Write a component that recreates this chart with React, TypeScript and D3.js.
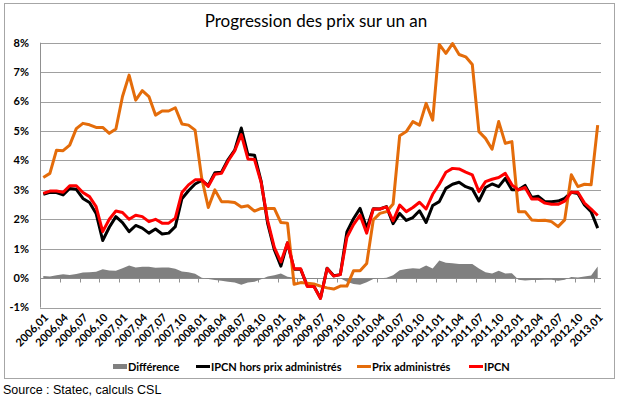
import React from 'react';
import * as d3 from 'd3';

const categories = [
  '2006,01', '2006,02', '2006,03', '2006,04', '2006,05', '2006,06', '2006,07', '2006,08', '2006,09', '2006,10', '2006,11', '2006,12',
  '2007,01', '2007,02', '2007,03', '2007,04', '2007,05', '2007,06', '2007,07', '2007,08', '2007,09', '2007,10', '2007,11', '2007,12',
  '2008,01', '2008,02', '2008,03', '2008,04', '2008,05', '2008,06', '2008,07', '2008,08', '2008,09', '2008,10', '2008,11', '2008,12',
  '2009,01', '2009,02', '2009,03', '2009,04', '2009,05', '2009,06', '2009,07', '2009,08', '2009,09', '2009,10', '2009,11', '2009,12',
  '2010,01', '2010,02', '2010,03', '2010,04', '2010,05', '2010,06', '2010,07', '2010,08', '2010,09', '2010,10', '2010,11', '2010,12',
  '2011,01', '2011,02', '2011,03', '2011,04', '2011,05', '2011,06', '2011,07', '2011,08', '2011,09', '2011,10', '2011,11', '2011,12',
  '2012,01', '2012,02', '2012,03', '2012,04', '2012,05', '2012,06', '2012,07', '2012,08', '2012,09', '2012,10', '2012,11', '2012,12',
  '2013,01',
];

// IPCN hors prix administrés
const ipcnHors = [
  2.85, 2.92, 2.91, 2.83, 3.05, 3.02, 2.71, 2.57, 2.2, 1.28, 1.73, 2.09,
  1.89, 1.58, 1.79, 1.7, 1.53, 1.67, 1.5, 1.53, 1.75, 2.7, 2.97, 3.2,
  3.32, 3.15, 3.58, 3.6, 4.03, 4.35, 5.1, 4.2, 4.18, 3.3, 1.85, 0.97,
  0.41, 1.2, 0.3, 0.3, -0.26, -0.27, -0.68, 0.34, 0.08, 0.12, 1.57, 2.02,
  2.37, 1.7, 2.36, 2.35, 2.43, 1.85, 2.2, 1.96, 2.06, 2.29, 1.89, 2.47,
  2.6, 3.05, 3.19, 3.26, 3.11, 3.03, 2.62, 3.08, 3.2, 3.11, 3.39, 3.0,
  3.0, 3.15, 2.74, 2.78, 2.6, 2.6, 2.62, 2.71, 2.92, 2.88, 2.49, 2.26,
  1.7,
];

// Prix administrés
const prixAdmin = [
  3.42, 3.56, 4.35, 4.33, 4.52, 5.08, 5.26, 5.21, 5.12, 5.12, 4.92, 5.07,
  6.17, 6.9, 6.05, 6.37, 6.17, 5.54, 5.68, 5.68, 5.79, 5.24, 5.2, 5.03,
  3.4, 2.4, 3.0, 2.6, 2.6, 2.57, 2.42, 2.46, 2.28, 2.37, 2.37, 2.37,
  1.89, 1.87, -0.21, -0.15, -0.17, -0.2, -0.27, -0.33, -0.37, -0.27, -0.27, 0.25,
  0.25, 0.5, 1.98, 2.2, 2.26, 2.52, 4.84, 4.98, 5.32, 5.2, 5.94, 5.37,
  7.94, 7.64, 7.97, 7.6, 7.52, 7.26, 4.98, 4.75, 4.38, 5.32, 4.58, 4.64,
  2.26, 2.26, 1.98, 1.96, 1.97, 1.92, 1.75, 1.98, 3.51, 3.11, 3.19, 3.17,
  5.2,
];

// IPCN
const ipcn = [
  2.88, 2.96, 2.96, 2.92, 3.14, 3.14, 2.91, 2.77, 2.43, 1.58, 2.0, 2.28,
  2.23, 2.0, 2.14, 2.09, 1.92, 2.0, 1.87, 1.87, 2.04, 2.91, 3.17, 3.34,
  3.34, 3.12, 3.53, 3.56, 3.98, 4.32, 4.88, 4.05, 4.03, 3.26, 1.95, 1.05,
  0.55, 1.2, 0.32, 0.32, -0.28, -0.28, -0.69, 0.33, 0.07, 0.12, 1.39, 1.82,
  2.14, 1.53, 2.35, 2.35, 2.42, 1.95, 2.48, 2.26, 2.4, 2.58, 2.35, 2.85,
  3.19, 3.6, 3.73, 3.71, 3.6, 3.51, 2.94, 3.28, 3.36, 3.42, 3.56, 3.17,
  3.0, 3.08, 2.69, 2.69, 2.55, 2.51, 2.51, 2.62, 2.92, 2.92, 2.55, 2.35,
  2.13,
];

// Différence
const difference = [
  0.07, 0.06, 0.1, 0.13, 0.11, 0.14, 0.19, 0.2, 0.22, 0.3, 0.26, 0.25,
  0.34, 0.43, 0.36, 0.39, 0.39, 0.35, 0.36, 0.36, 0.32, 0.23, 0.2, 0.15,
  0.01, -0.03, -0.06, -0.09, -0.12, -0.15, -0.22, -0.15, -0.12, -0.04, 0.06, 0.1,
  0.16, 0.05, 0.01, 0.0, -0.02, -0.02, 0.0, -0.01, -0.02, 0.0, -0.12, -0.2,
  -0.22, -0.14, -0.03, 0.0, 0.01, 0.1, 0.27, 0.31, 0.34, 0.32, 0.43, 0.33,
  0.6, 0.52, 0.51, 0.48, 0.48, 0.48, 0.33, 0.2, 0.16, 0.25, 0.16, 0.17,
  -0.05, -0.08, -0.06, -0.06, -0.05, -0.05, -0.09, -0.05, 0.04, 0.02, 0.06, 0.09,
  0.4,
];

const yTicks = [-1, 0, 1, 2, 3, 4, 5, 6, 7, 8];

const legendItems = [
  { label: 'Différence', color: '#808080', type: 'area', x: 113 },
  { label: 'IPCN hors prix administrés', color: '#000000', type: 'line', x: 196 },
  { label: 'Prix administrés', color: '#E46C0A', type: 'line', x: 357 },
  { label: 'IPCN', color: '#FF0000', type: 'line', x: 469 },
];

const W = 620;
const H = 398;
const plot = { left: 40, right: 601, top: 42.7, bottom: 307.6 };
const labelFont = "Lato, 'Open Sans', sans-serif";

export default function App() {
  const x = d3.scaleBand().domain(categories).range([plot.left, plot.right]).padding(0);
  const y = d3.scaleLinear().domain([-1, 8]).range([plot.bottom, plot.top]);
  const cx = (i: number) => (x(categories[i]) as number) + x.bandwidth() / 2;

  const line = d3
    .line<number>()
    .x((d, i) => cx(i))
    .y(d => y(d));

  const area = d3
    .area<number>()
    .x((d, i) => cx(i))
    .y0(y(0))
    .y1(d => y(d));

  const tickIdx = categories.map((c, i) => i).filter(i => i % 3 === 0);
  const y0 = Math.round(y(0)) + 0.5;

  return (
    <svg width={W} height={H} style={{ position: 'absolute', left: 0, top: 0, background: '#fff' }}>
      <rect x={4.5} y={3.5} width={610} height={375} fill="#fff" stroke="#a6a6a6" strokeWidth={1} />
      <text x={316} y={27} textAnchor="middle" fontFamily={labelFont} fontSize={17} fill="#000">
        Progression des prix sur un an
      </text>

      {yTicks.map(t => (
        <g key={t}>
          <line
            x1={plot.left}
            x2={plot.right}
            y1={Math.round(y(t)) + 0.5}
            y2={Math.round(y(t)) + 0.5}
            stroke="#a0a0a0"
            strokeWidth={1}
          />
          <text
            x={29}
            y={y(t)}
            dy="0.35em"
            textAnchor="end"
            fontFamily={labelFont}
            fontWeight="bold"
            fontSize={11}
            fill="#000"
          >
            {t + '%'}
          </text>
        </g>
      ))}
      <line x1={plot.left + 0.5} x2={plot.left + 0.5} y1={plot.top} y2={plot.bottom} stroke="#909090" />

      {/* category axis at 0 */}
      <line x1={plot.left} x2={plot.right} y1={y0} y2={y0} stroke="#909090" />
      {tickIdx.map(i => {
        const tx = Math.round(x(categories[i]) as number) + 0.5;
        return <line key={i} x1={tx} x2={tx} y1={y0} y2={y0 + 4} stroke="#909090" />;
      })}

      <path d={area(difference) || ''} fill="#808080" />
      <path d={line(ipcnHors) || ''} fill="none" stroke="#000" strokeWidth={3} strokeLinejoin="round" />
      <path d={line(prixAdmin) || ''} fill="none" stroke="#E46C0A" strokeWidth={3} strokeLinejoin="round" />
      <path d={line(ipcn) || ''} fill="none" stroke="#FF0000" strokeWidth={3} strokeLinejoin="round" />

      {tickIdx.map(i => (
        <text
          key={i}
          transform={`translate(${cx(i) + 3},${plot.bottom + 8}) rotate(-45)`}
          textAnchor="end"
          dy="0.35em"
          fontFamily={labelFont}
          fontWeight="bold"
          fontSize={11}
          fill="#000"
        >
          {categories[i]}
        </text>
      ))}

      {legendItems.map(item => (
        <g key={item.label}>
          {item.type === 'area' ? (
            <rect x={item.x} y={364} width={14} height={5} fill={item.color} />
          ) : (
            <line x1={item.x} x2={item.x + 14} y1={366.5} y2={366.5} stroke={item.color} strokeWidth={3} />
          )}
          <text
            x={item.x + 15}
            y={367}
            dy="0.35em"
            fontFamily={labelFont}
            fontWeight="bold"
            fontSize={11}
            fill="#000"
          >
            {item.label}
          </text>
        </g>
      ))}

      <text x={3} y={394} fontFamily="'Liberation Sans Narrow', 'Liberation Sans', Arial, sans-serif" fontSize={12.5} fill="#000">
        Source : Statec, calculs CSL
      </text>
    </svg>
  );
}
